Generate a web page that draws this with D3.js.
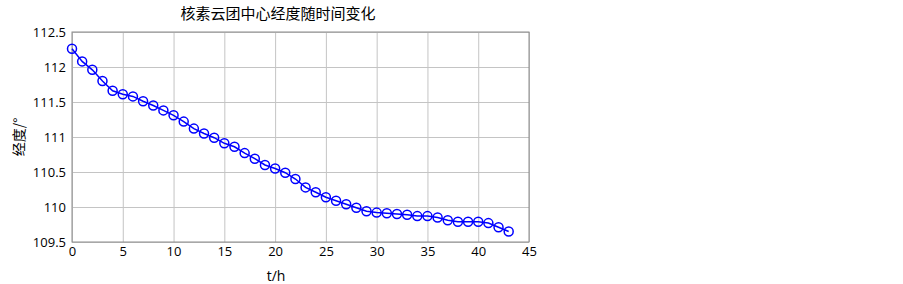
<!DOCTYPE html>
<html>
<head>
<meta charset="utf-8">
<script src="https://cdn.jsdelivr.net/npm/d3@7"></script>
<style>
	body { margin: 0; background: #fff; }
	svg text { font-family: "Open Sans", "DejaVu Sans", sans-serif; }
</style>
</head>
<body>
<svg id="chart" width="903" height="284"></svg>
<script>
var hours = [0,1,2,3,4,5,6,7,8,9,10,11,12,13,14,15,16,17,18,19,20,21,
	22,23,24,25,26,27,28,29,30,31,32,33,34,35,36,37,38,39,40,41,42,43];
var longitude = [112.26,112.08,111.96,111.80,111.66,111.61,111.58,111.51,111.45,111.38,
	111.31,111.22,111.12,111.05,110.99,110.91,110.86,110.77,110.69,110.60,110.55,110.49,
	110.40,110.28,110.21,110.14,110.09,110.04,109.99,109.94,109.92,109.91,109.90,109.89,
	109.87,109.87,109.85,109.81,109.79,109.79,109.79,109.77,109.71,109.65];
var xTicks = [0,5,10,15,20,25,30,35,40,45];
var yTicks = [109.5,110,110.5,111,111.5,112,112.5];

var svg = d3.select("#chart");
var plotLeft = 72, plotRight = 529, plotTop = 32, plotBottom = 242;

var x = d3.scaleLinear().domain([0, 45]).range([plotLeft, plotRight]);
var y = d3.scaleLinear().domain([109.5, 112.5]).range([plotBottom, plotTop]);

// grid
svg.append("g")
	.attr("transform", "translate(0," + plotBottom + ")")
	.call(d3.axisBottom(x).tickValues(xTicks).tickSize(-(plotBottom - plotTop)).tickFormat(""))
	.call(function(g) {
		g.select(".domain").remove();
		g.selectAll("line").attr("stroke", "#c4c4c4").attr("stroke-width", 1);
	});
svg.append("g")
	.attr("transform", "translate(" + plotLeft + ",0)")
	.call(d3.axisLeft(y).tickValues(yTicks).tickSize(-(plotRight - plotLeft)).tickFormat(""))
	.call(function(g) {
		g.select(".domain").remove();
		g.selectAll("line").attr("stroke", "#c4c4c4").attr("stroke-width", 1);
	});

// box
svg.append("rect")
	.attr("x", plotLeft).attr("y", plotTop)
	.attr("width", plotRight - plotLeft).attr("height", plotBottom - plotTop)
	.attr("fill", "none").attr("stroke", "#8c8c8c").attr("stroke-width", 1);

// tick labels
var xAxis = svg.append("g")
	.attr("transform", "translate(0," + plotBottom + ")")
	.call(d3.axisBottom(x).tickValues(xTicks).tickSize(0).tickPadding(5));
xAxis.select(".domain").remove();
xAxis.selectAll("text").attr("font-size", 13).attr("fill", "#000");

var yAxis = svg.append("g")
	.attr("transform", "translate(" + plotLeft + ",0)")
	.call(d3.axisLeft(y).tickValues(yTicks).tickSize(0).tickPadding(6).tickFormat(d3.format("")));
yAxis.select(".domain").remove();
yAxis.selectAll("text").attr("font-size", 13).attr("fill", "#000");

// line + markers
var line = d3.line()
	.x(function(d, i) { return x(hours[i]); })
	.y(function(d) { return y(d); });

svg.append("path")
	.datum(longitude)
	.attr("d", line)
	.attr("fill", "none")
	.attr("stroke", "#0000ff")
	.attr("stroke-width", 1.5);

svg.selectAll("circle.pt")
	.data(longitude)
	.enter().append("circle")
	.attr("class", "pt")
	.attr("cx", function(d, i) { return x(hours[i]); })
	.attr("cy", function(d) { return y(d); })
	.attr("r", 4.5)
	.attr("fill", "none")
	.attr("stroke", "#0000ff")
	.attr("stroke-width", 1.5);

// titles
svg.append("text")
	.attr("x", 278).attr("y", 19)
	.attr("text-anchor", "middle")
	.style("font-family", "'Noto Sans CJK SC', sans-serif")
	.attr("font-size", 15)
	.text("核素云团中心经度随时间变化");

svg.append("text")
	.attr("x", 276).attr("y", 281)
	.attr("text-anchor", "middle")
	.attr("font-size", 14)
	.text("t/h");

svg.append("text")
	.attr("transform", "translate(24,137) rotate(-90)")
	.attr("text-anchor", "middle")
	.style("font-family", "'Noto Sans CJK SC', sans-serif")
	.attr("font-size", 14)
	.text("经度/°");
</script>
</body>
</html>
